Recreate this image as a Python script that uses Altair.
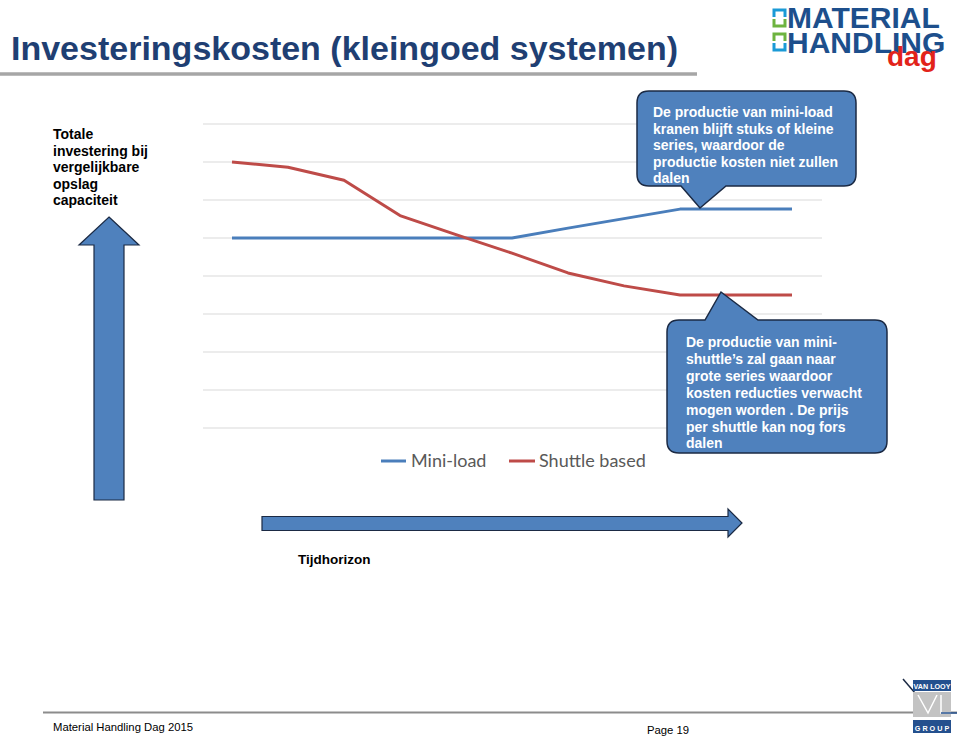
import altair as alt
import pandas as pd

# ---------------- data ----------------
periods = list(range(1, 12))
mini_load = [5.0, 5.0, 5.0, 5.0, 5.0, 5.0, 5.26, 5.51, 5.76, 5.76, 5.76]
shuttle_based = [7.0, 6.86, 6.52, 5.59, 5.09, 4.6, 4.08, 3.74, 3.5, 3.5, 3.5]
series_names = ["Mini-load", "Shuttle based"]
series_colors = ["#4A7EBB", "#BE4B48"]
grid_values = list(range(0, 9))

title_text = "Investeringskosten (kleingoed systemen)"
y_label_lines = ["Totale", "investering bij", "vergelijkbare", "opslag", "capaciteit"]
x_label = "Tijdhorizon"
callout_top_lines = ["De productie van mini-load", "kranen blijft stuks of kleine",
                     "series, waardoor de", "productie kosten niet zullen", "dalen"]
callout_bottom_lines = ["De productie van mini-", "shuttle\u2019s zal gaan naar",
                        "grote series waardoor", "kosten reducties verwacht",
                        "mogen worden . De prijs", "per shuttle kan nog fors", "dalen"]
footer_left = "Material Handling Dag 2015"
footer_page = "Page 19"
logo_words = ["MATERIAL", "HANDLING", "dag"]
vanlooy_words = ["VAN LOOY", "G R O U P"]

# ---------------- helpers ----------------
one = pd.DataFrame({"k": [0]})
ARIAL = "Liberation Sans, Arial, Helvetica"
SHAPE_FILL = "#4F81BD"
SHAPE_STROKE = "#1B2A44"


def shape(path, fill=None, stroke=None, sw=1.0):
    kw = dict(shape=path, size=4, opacity=1, strokeWidth=sw)
    if fill is not None:
        kw["filled"] = True
        kw["fill"] = fill
    else:
        kw["filled"] = False
        kw["fillOpacity"] = 0
    if stroke is not None:
        kw["stroke"] = stroke
    else:
        kw["strokeWidth"] = 0
    return alt.Chart(one).mark_point(**kw).encode(x=alt.value(0), y=alt.value(0))


def txt(text, x, y, size, color="#000000", weight="bold", font=ARIAL,
        align="left", line_height=None, baseline="alphabetic"):
    kw = dict(text=text, fontSize=size, color=color, fontWeight=weight, font=font,
              align=align, baseline=baseline)
    if line_height is not None:
        kw["lineHeight"] = line_height
    return alt.Chart(one).mark_text(**kw).encode(x=alt.value(x), y=alt.value(y))


def rule(x1, y1, x2, y2, color, sw):
    return alt.Chart(one).mark_rule(color=color, strokeWidth=sw).encode(
        x=alt.value(x1), y=alt.value(y1), x2=alt.value(x2), y2=alt.value(y2))


def rect(x1, y1, x2, y2, color):
    return alt.Chart(one).mark_rect(color=color, opacity=1).encode(
        x=alt.value(x1), y=alt.value(y1), x2=alt.value(x2), y2=alt.value(y2))


# ---------------- chart data layers ----------------
df = pd.DataFrame({
    "period": periods * 2,
    "value": mini_load + shuttle_based,
    "series": [series_names[0]] * len(periods) + [series_names[1]] * len(periods),
})
xs = alt.Scale(domain=[0.5, 11.5], range=[204, 820])
ys = alt.Scale(domain=[0, 8], range=[428, 124])

grid = alt.Chart(pd.DataFrame({"value": grid_values})).mark_rule(
    color="#D9D9D9", strokeWidth=1).encode(
    y=alt.Y("value:Q", scale=ys, axis=None),
    x=alt.value(203), x2=alt.value(822))

lines = alt.Chart(df).mark_line(strokeWidth=3, strokeJoin="round").encode(
    x=alt.X("period:Q", scale=xs, axis=None),
    y=alt.Y("value:Q", scale=ys, axis=None),
    color=alt.Color("series:N", scale=alt.Scale(domain=series_names, range=series_colors),
                    legend=None),
)

layers = [grid, lines]

# legend (manual, below the plot)
legend_slots = [(381, 406, 411), (509, 535, 539)]
for name, col, (lx1, lx2, tx) in zip(series_names, series_colors, legend_slots):
    layers.append(rule(lx1, 461, lx2, 461, col, 3))
    layers.append(txt(name, tx, 467, 18, color="#595959", weight="normal", font="Lato, Open Sans"))

# ---------------- slide decorations ----------------
layers.append(txt(title_text, 11, 60, 34, color="#1F3F73", font=ARIAL))
layers.append(rule(0, 74, 697, 74, "#A6A6A6", 3.5))

# top-right logo
layers.append(shape("M 774 17 L 774 10 L 785 10 L 785 17", stroke="#1B9AD6", sw=3))
layers.append(shape("M 774 19 L 774 26 L 785 26 L 785 19", stroke="#6DB33F", sw=3))
layers.append(shape("M 774 41 L 774 34 L 785 34 L 785 41", stroke="#6DB33F", sw=3))
layers.append(shape("M 774 43 L 774 50 L 785 50 L 785 43", stroke="#1B9AD6", sw=3))
layers.append(txt(logo_words[0], 787, 28, 30, color="#1D4F8C", font=ARIAL))
layers.append(txt(logo_words[1], 787, 53, 30, color="#1D4F8C", font=ARIAL))
layers.append(txt(logo_words[2], 887, 66, 28, color="#E2231A", font=ARIAL))

# left axis label + arrow
layers.append(txt(y_label_lines, 53, 139, 14, line_height=16.5))
layers.append(shape("M 109 217 L 139 245 L 124 245 L 124 500 L 94 500 L 94 245 L 79 245 Z",
                    fill=SHAPE_FILL, stroke=SHAPE_STROKE, sw=1.2))

# bottom arrow + label
layers.append(shape("M 262 516.5 L 728 516.5 L 728 509 L 742 523 L 728 537 L 728 530.5 L 262 530.5 Z",
                    fill=SHAPE_FILL, stroke=SHAPE_STROKE, sw=1.2))
layers.append(txt(x_label, 298, 564, 13.5))

# callouts
layers.append(shape("M 649 91 L 844 91 Q 856 91 856 103 L 856 174 Q 856 186 844 186 "
                    "L 726 186 L 700 208 L 681 186 L 649 186 Q 637 186 637 174 "
                    "L 637 103 Q 637 91 649 91 Z",
                    fill=SHAPE_FILL, stroke=SHAPE_STROKE, sw=1.5))
layers.append(txt(callout_top_lines, 653, 117, 14, color="#FFFFFF", line_height=16.6))

layers.append(shape("M 679 320 L 705 320 L 721 292 L 758 320 L 875 320 Q 887 320 887 332 "
                    "L 887 441 Q 887 453 875 453 L 679 453 Q 667 453 667 441 "
                    "L 667 332 Q 667 320 679 320 Z",
                    fill=SHAPE_FILL, stroke=SHAPE_STROKE, sw=1.5))
layers.append(txt(callout_bottom_lines, 686, 347, 14, color="#FFFFFF", line_height=16.9))

# footer
layers.append(rule(43, 712.5, 957, 712.5, "#8C8C8C", 2))
layers.append(txt(footer_left, 53, 731, 11.3, weight="normal", font=ARIAL))
layers.append(txt(footer_page, 647, 734, 11.3, weight="normal", font=ARIAL))

# Van Looy logo
layers.append(rule(903, 679, 915, 693, "#1B2A44", 1.5))
layers.append(rect(913, 680, 951, 691, "#24508E"))
layers.append(txt(vanlooy_words[0], 932, 689, 7.2, color="#FFFFFF", font=ARIAL, align="center"))
layers.append(rect(913, 692, 951, 717, "#C3C3C3"))
layers.append(shape("M 918 695 L 928 713 L 937 695", stroke="#FFFFFF", sw=1.5))
layers.append(shape("M 941 695 L 941 713 L 951 713", stroke="#FFFFFF", sw=1.5))
layers.append(rule(941, 713, 957, 713, "#24508E", 1.5))
layers.append(rect(913, 720, 951, 733, "#24508E"))
layers.append(txt(vanlooy_words[1], 932, 730.5, 7.2, color="#FFFFFF", font=ARIAL, align="center"))

chart = alt.layer(*layers).properties(
    width=960, height=738,
    autosize=alt.AutoSizeParams(type="none"),
    padding=0,
    background="#FFFFFF",
).configure_view(stroke=None)

chart.save("out.html", embed_options={"renderer": "svg", "actions": False})
